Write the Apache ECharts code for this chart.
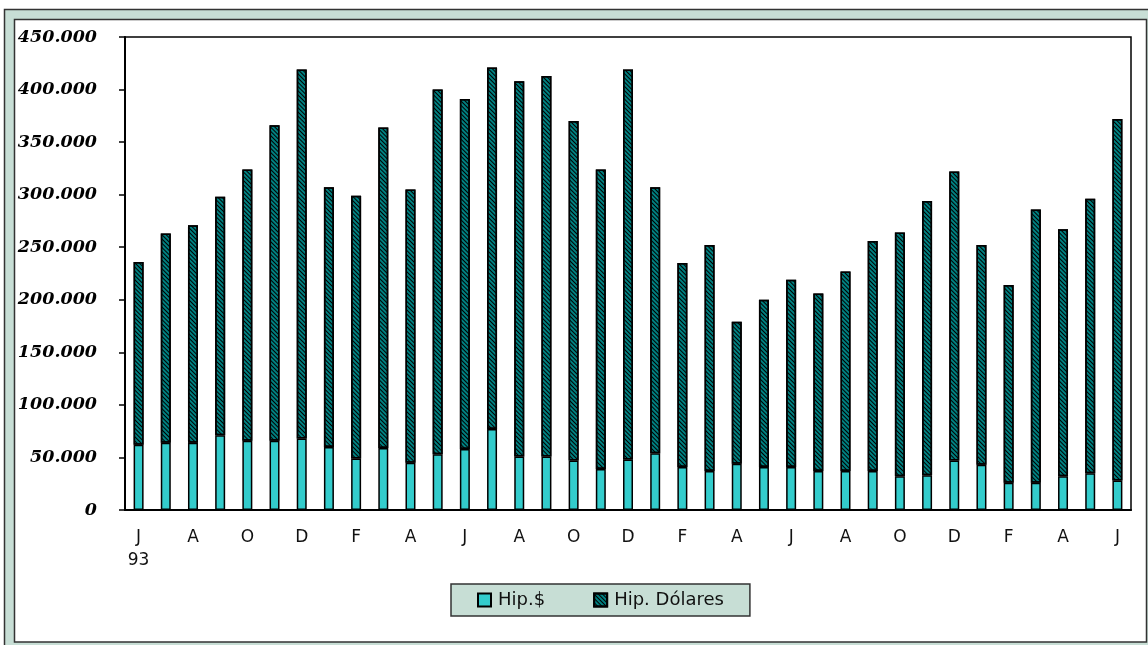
<!DOCTYPE html>
<html>
<head>
<meta charset="utf-8">
<script src="https://cdn.jsdelivr.net/npm/echarts@6/dist/echarts.min.js"></script>
<style>
  html, body { margin: 0; padding: 0; background: #ffffff; }
  #chart { width: 1148px; height: 645px; }
</style>
</head>
<body>
<div id="chart"></div>
<script>
// Monthly mortgage lending, June 1993 – June 1996
const months = ['J\n93','J','A','S','O','N','D','J','F','M','A','M','J','J','A','S','O','N','D',
                'J','F','M','A','M','J','J','A','S','O','N','D','J','F','M','A','M','J'];

// Hipotecas en pesos
const hipPesos = [62000,64000,64000,71000,66000,66000,68000,60000,49000,59000,
                  45000,53000,58000,77000,51000,51000,47000,39000,48000,54000,
                  41000,37000,44000,41000,41000,37000,37000,37000,32000,33000,
                  47000,43000,26000,26000,32000,35000,28000];

// Hipotecas en dólares
const hipDolares = [174000,199000,207000,227000,258000,300000,351000,247000,250000,305000,
                    260000,347000,333000,344000,357000,362000,323000,285000,371000,253000,
                    194000,215000,135000,159000,178000,169000,190000,219000,232000,261000,
                    275000,209000,188000,260000,235000,261000,344000];

const seriesNames = ['Hip.$', 'Hip. Dólares'];
const yMax = 450000;
const yStep = 50000;

// 450000 -> "450.000"
const thousands = v => String(v).replace(/\B(?=(\d{3})+(?!\d))/g, '.');

const chart = echarts.init(document.getElementById('chart'), null, { renderer: 'canvas' });

chart.setOption({
  animation: false,
  backgroundColor: '#ffffff',
  graphic: [
    // outer bevel frame
    { type: 'rect', z: -10, silent: true,
      shape: { x: 4.5, y: 9.5, width: 1160, height: 650 },
      style: { fill: '#c7ded5', stroke: '#333333', lineWidth: 1.5 } },
    { type: 'rect', z: -9, silent: true,
      shape: { x: 14.5, y: 19.5, width: 1132, height: 622.5 },
      style: { fill: '#ffffff', stroke: '#333333', lineWidth: 1.5 } }
  ],
  grid: {
    left: 125, right: 17, top: 37, bottom: 135,
    show: true, borderColor: '#000000', borderWidth: 1.5,
    backgroundColor: 'transparent',
    outerBoundsMode: 'none'
  },
  legend: {
    left: 451, top: 584,
    itemWidth: 13, itemHeight: 13, itemGap: 48,
    icon: 'rect',
    padding: [5, 26, 5, 26],
    backgroundColor: '#c7ded5',
    borderColor: '#333333', borderWidth: 1.5, borderRadius: 0,
    textStyle: { fontFamily: 'DejaVu Sans', fontSize: 18, color: '#111111', lineHeight: 22, padding: [0, 0, 0, 2] },
    data: seriesNames
  },
  xAxis: {
    type: 'category',
    data: months,
    boundaryGap: true,
    axisLine: { lineStyle: { color: '#000000', width: 2 } },
    axisTick: { inside: true, length: 4, interval: 0, lineStyle: { color: '#000000', width: 1.5 } },
    axisLabel: {
      interval: 1, margin: 16,
      fontFamily: 'DejaVu Sans', fontSize: 17, lineHeight: 23, color: '#111111'
    },
    splitLine: { show: false }
  },
  yAxis: {
    type: 'value',
    min: 0, max: yMax, interval: yStep,
    axisLine: { show: true, lineStyle: { color: '#000000', width: 2 } },
    axisTick: { show: true, length: 6, lineStyle: { color: '#000000', width: 1.5 } },
    axisLabel: {
      margin: 28,
      formatter: thousands,
      fontFamily: 'DejaVu Serif', fontStyle: 'italic', fontWeight: 'bold',
      fontSize: 17.5, color: '#000000'
    },
    splitLine: { show: false }
  },
  series: [
    {
      name: seriesNames[0],
      type: 'bar',
      stack: 'hip',
      barWidth: 10,
      data: hipPesos,
      itemStyle: { color: '#33cccc', borderColor: '#000000', borderWidth: 1.5 }
    },
    {
      name: seriesNames[1],
      type: 'bar',
      stack: 'hip',
      barWidth: 10,
      data: hipDolares,
      itemStyle: {
        color: '#008080', borderColor: '#000000', borderWidth: 1.5,
        decal: {
          symbol: 'rect', symbolSize: 1, color: '#000000',
          dashArrayX: [1, 0], dashArrayY: [1, 2],
          rotation: Math.PI / 4
        }
      }
    }
  ]
});
</script>
</body>
</html>
